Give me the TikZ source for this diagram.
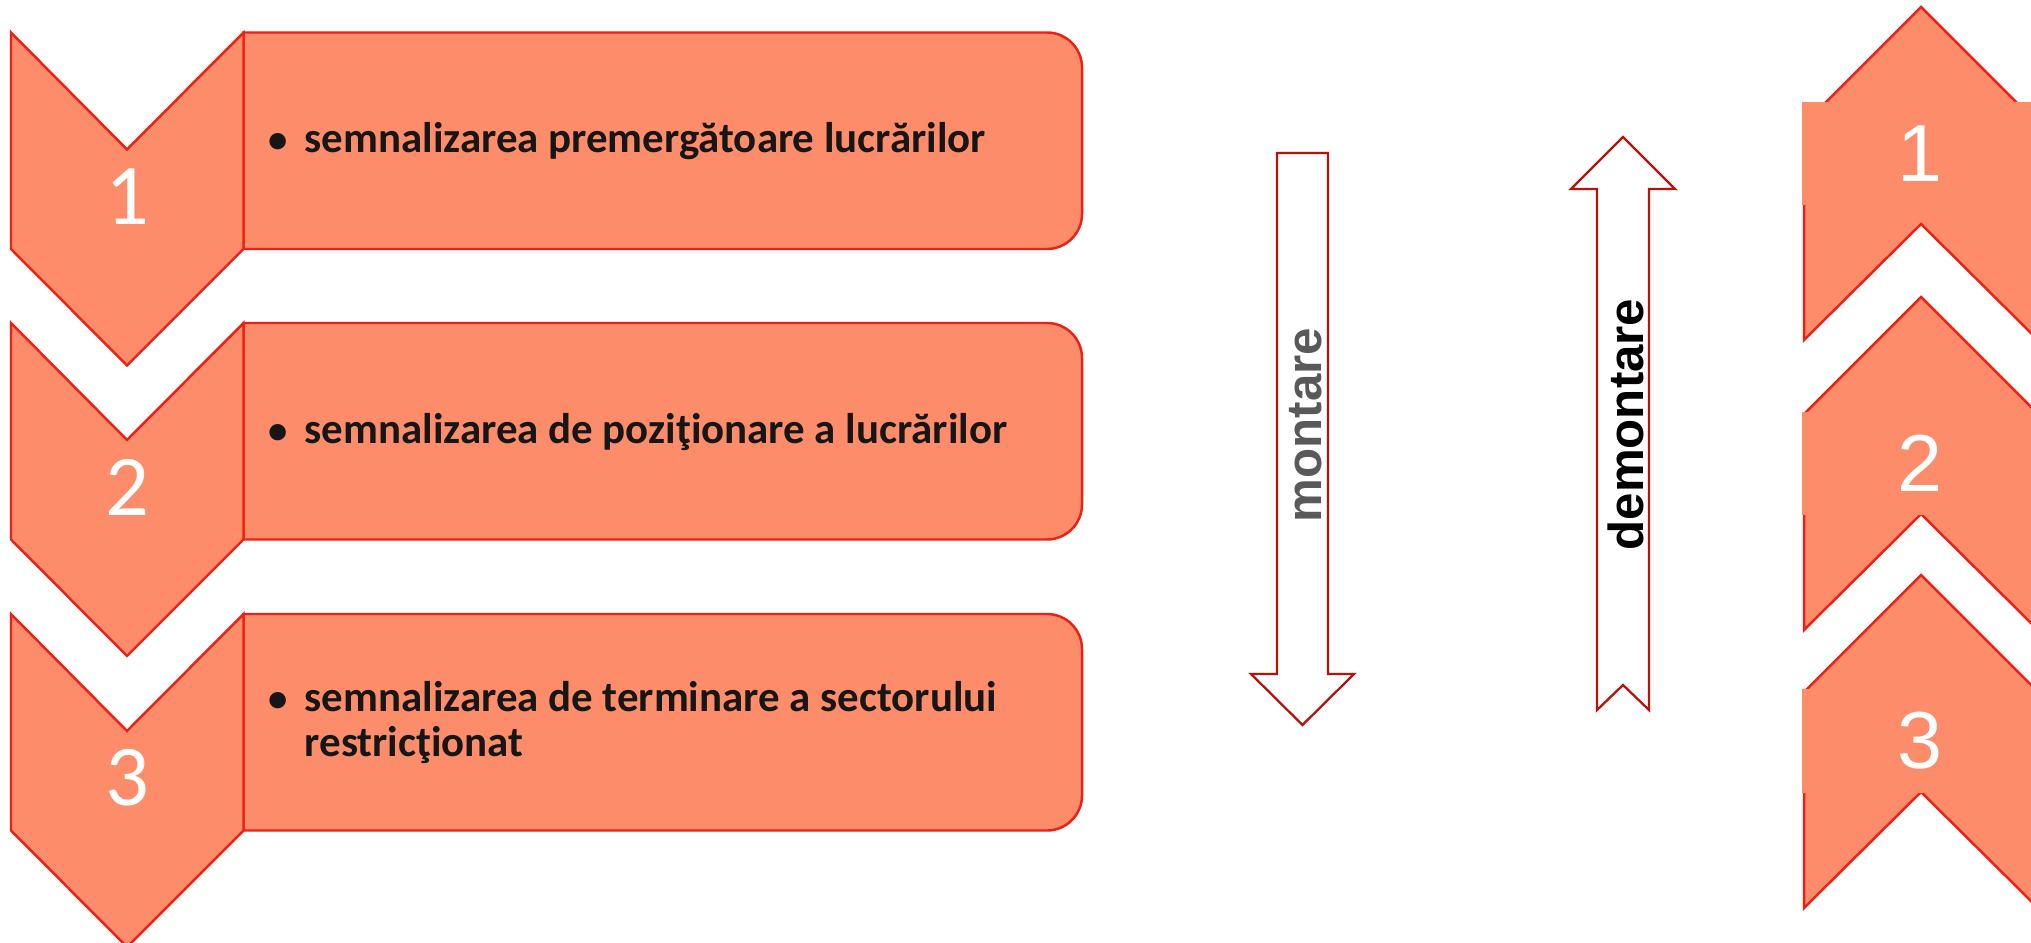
\documentclass[tikz,border=0pt]{standalone}
\usepackage{fontspec}
\setmainfont{Carlito}
\newfontfamily\arialfont{Liberation Sans}
\usetikzlibrary{positioning}
\definecolor{salmon}{RGB}{252,140,106}
\definecolor{chevred}{RGB}{236,32,20}
\definecolor{arrowred}{RGB}{185,18,10}
\definecolor{labelgray}{RGB}{89,89,89}
\definecolor{inktext}{RGB}{22,22,22}
\tikzset{
	chevron/.style={fill=salmon, draw=chevred, line width=0.7pt, line join=miter},
	itembox/.style={fill=salmon, draw=chevred, line width=0.7pt},
	blockarrow/.style={fill=white, draw=arrowred, line width=0.65pt, line join=miter},
	stepnum/.style={inner sep=0pt, text=white, font=\fontsize{24.6}{24.6}\selectfont},
	numbox/.style={fill=salmon, inner sep=0pt, minimum width=2.36cm, minimum height=1.03cm, text=white, font=\arialfont\fontsize{23}{23}\selectfont},
	itemtext/.style={inner sep=0pt, anchor=base west, text=inktext, font=\bfseries\fontsize{12.2}{12.7}\selectfont},
	itembullet/.style={inner sep=0pt, anchor=base, text=inktext, font=\bfseries\fontsize{11}{12.7}\selectfont},
	arrowlabel/.style={rotate=90, inner sep=0pt, font=\arialfont\bfseries\fontsize{14}{14}\selectfont}
}

\begin{document}
\begin{tikzpicture}[x=0.01cm, y=-0.01cm]
	\useasboundingbox (0,0) rectangle (2031,943);
	\begin{scope}
		\draw[itembox] (243.5,32.5) [rounded corners=0.35cm] -- (1082,32.5) -- (1082,249) [sharp corners] -- (243.5,249) -- cycle;
		\draw[itembox] (243.5,323) [rounded corners=0.35cm] -- (1082,323) -- (1082,539.5) [sharp corners] -- (243.5,539.5) -- cycle;
		\draw[itembox] (243.5,614) [rounded corners=0.35cm] -- (1082,614) -- (1082,830.5) [sharp corners] -- (243.5,830.5) -- cycle;

		\draw[chevron] (11,32.5) -- (127,149.5) -- (243.5,32.5) -- (243.5,249) -- (127,365.5) -- (11,249) -- cycle;
		\draw[chevron] (11,323) -- (127,440) -- (243.5,323) -- (243.5,539.5) -- (127,656) -- (11,539.5) -- cycle;
		\draw[chevron] (11,614) -- (127,731) -- (243.5,614) -- (243.5,830.5) -- (127,947) -- (11,830.5) -- cycle;

		\node[stepnum] (n1) at (127,196.5) {1};
		\node[stepnum] (n2) at (127,487) {2};
		\node[stepnum] (n3) at (127,778) {3};

		\node[itembullet] (b1) at (278.5,153) {•};
		\node[itemtext] (t1) at (304,153) {semnalizarea premergătoare lucrărilor};
		\node[itembullet] (b2) at (278.5,443.5) {•};
		\node[itemtext] (t2) at (304,443.5) {semnalizarea de poziţionare a lucrărilor};
		\node[itembullet] (b3) at (278.5,711.5) {•};
		\node[itemtext] (t3) at (304,711.5) {\vtop{\hbox{semnalizarea de terminare a sectorului}\hbox{restricţionat}}};

		\draw[blockarrow] (1277,153) -- (1328,153) -- (1328,674) -- (1354,674) -- (1302.5,725) -- (1251,674) -- (1277,674) -- cycle;
		\node[arrowlabel, text=labelgray] (montare) at (1306,425) {montare};

		\draw[blockarrow] (1597,710) -- (1623,685) -- (1649,710) -- (1649,189) -- (1675,189) -- (1623,137) -- (1571,189) -- (1597,189) -- cycle;
		\node[arrowlabel, text=black] (demontare) at (1626,424.5) {demontare};

		\draw[chevron] (1804,124) -- (1921,7) -- (2038,124) -- (2038,340) -- (1921,224) -- (1804,340) -- cycle;
		\node[numbox] (r1) at (1920,153.5) {1};
		\draw[chevron] (1804,414) -- (1921,297) -- (2038,414) -- (2038,630) -- (1921,514) -- (1804,630) -- cycle;
		\node[numbox] (r2) at (1920,463.5) {2};
		\draw[chevron] (1804,692) -- (1921,575) -- (2038,692) -- (2038,908) -- (1921,792) -- (1804,908) -- cycle;
		\node[numbox] (r3) at (1920,741) {3};
	\end{scope}
\end{tikzpicture}
\end{document}
